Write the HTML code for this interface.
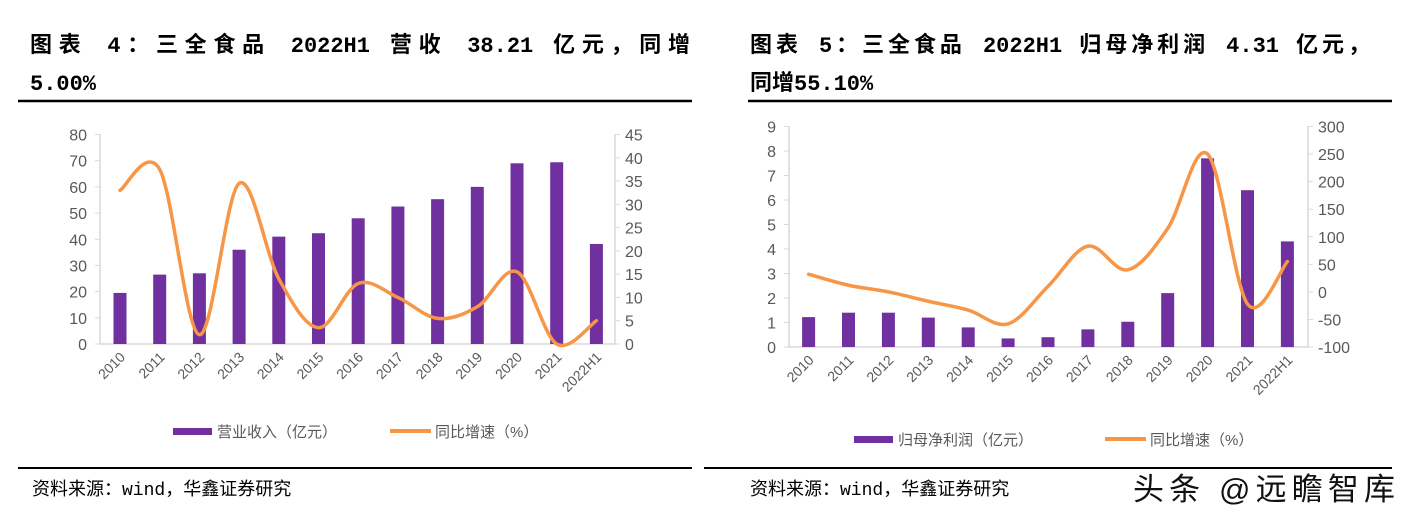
<!DOCTYPE html>
<html><head><meta charset="utf-8">
<style>
body{margin:0;background:#fff;width:1408px;height:512px;overflow:hidden;position:relative;font-family:"Liberation Sans","Noto Sans CJK SC",sans-serif;}
.tl{position:absolute;font-weight:bold;font-size:22px;color:#000;line-height:38px;font-family:"Liberation Mono","Noto Sans CJK SC",monospace;white-space:nowrap;}
.j{text-align:justify;text-align-last:justify;}
.src{position:absolute;font-size:18px;color:#000;font-family:"Liberation Mono","Noto Sans CJK SC",monospace;}
.wm{position:absolute;left:1133px;top:464px;width:262px;font-size:31px;color:#111;text-shadow:0 0 3px #fff,0 0 3px #fff;text-align:justify;text-align-last:justify;white-space:nowrap;}
</style></head><body>
<div class="tl j" style="left:30px;top:28px;width:660px;">图表 4：三全食品 2022H1 营收 38.21 亿元，同增</div>
<div class="tl" style="left:30px;top:66px;">5.00%</div>
<div class="tl j" style="left:750px;top:28px;width:620px;">图表 5：三全食品 2022H1 归母净利润 4.31 亿元，</div>
<div class="tl" style="left:750px;top:66px;">同增55.10%</div>
<svg width="1408" height="512" style="position:absolute;left:0;top:0">
<line x1="18" y1="101" x2="692" y2="101" stroke="#000" stroke-width="2.5"/>
<line x1="748" y1="101" x2="1392" y2="101" stroke="#000" stroke-width="2.5"/>
<line x1="18" y1="468" x2="692" y2="468" stroke="#000" stroke-width="2"/>
<line x1="704" y1="468" x2="1392" y2="468" stroke="#000" stroke-width="2"/>
<g id="c1"></g><g id="c2"></g>
</svg>
<div class="src" style="left:32px;top:475px;">资料来源：wind，华鑫证券研究</div>
<div class="src" style="left:750px;top:475px;">资料来源：wind，华鑫证券研究</div>
<div class="wm">头条 @远瞻智库</div>
<script>
const categories=["2010","2011","2012","2013","2014","2015","2016","2017","2018","2019","2020","2021","2022H1"];
const revenue=[19.5,26.5,27,36,41,42.3,48,52.5,55.3,60,69,69.4,38.2];
const revenueGrowth=[33,37.5,2,34.5,14,3.5,13,10,5.5,8,15.5,0,5];
const leftTicks=[0,10,20,30,40,50,60,70,80];
const leftRightTicks=[0,5,10,15,20,25,30,35,40,45];
const profit=[1.22,1.4,1.4,1.2,0.8,0.35,0.4,0.72,1.03,2.2,7.7,6.4,4.31];
const profitGrowth=[32,12,0,-17,-33,-58,10,83,40,115,250,-22,55];
const rightTicks=[0,1,2,3,4,5,6,7,8,9];
const rightRightTicks=[-100,-50,0,50,100,150,200,250,300];
const NS="http://www.w3.org/2000/svg";
function mk(p,tag,at){const e=document.createElementNS(NS,tag);for(const k in at)e.setAttribute(k,at[k]);p.appendChild(e);return e;}
function spline(pts){let d="M"+pts[0][0]+","+pts[0][1];for(let i=0;i<pts.length-1;i++){const p0=pts[i-1]||pts[i],p1=pts[i],p2=pts[i+1],p3=pts[i+2]||p2;const c1=[p1[0]+(p2[0]-p0[0])/6,p1[1]+(p2[1]-p0[1])/6],c2=[p2[0]-(p3[0]-p1[0])/6,p2[1]-(p3[1]-p1[1])/6];d+=" C"+c1+" "+c2+" "+p2;}return d;}
function chart(g,o){
 const yL=v=>o.y0-(v-o.lmin)/(o.lmax-o.lmin)*(o.y0-o.y1);
 const yR=v=>o.y0-(v-o.rmin)/(o.rmax-o.rmin)*(o.y0-o.y1);
 const xC=i=>o.xa+o.first+i*o.step;
 const ax=mk(g,'line',{x1:o.xa,y1:o.y0,x2:o.xb,y2:o.y0,stroke:'#d9d9d9','stroke-width':1.5});
 
 const la=mk(g,'line',{x1:o.xa,y1:o.y1,x2:o.xa,y2:o.y0,stroke:'#d9d9d9','stroke-width':1.5});
 
 const ra=mk(g,'line',{x1:o.xb,y1:o.y1,x2:o.xb,y2:o.y0,stroke:'#d9d9d9','stroke-width':1.5});
 
 o.lt.forEach(v=>{const y=yL(v);mk(g,'line',{x1:o.xa-5,y1:y,x2:o.xa,y2:y,stroke:'#d9d9d9'});
  const t=mk(g,'text',{x:o.xa-13,y:y+6,'text-anchor':'end','font-size':16,fill:'#595959'});t.textContent=v;
  });
 o.rt.forEach(v=>{const y=yR(v);mk(g,'line',{x1:o.xb,y1:y,x2:o.xb+5,y2:y,stroke:'#d9d9d9'});
  const t=mk(g,'text',{x:o.xb+10,y:y+6,'font-size':16,fill:'#595959'});t.textContent=v;
  });
 o.bars.forEach((v,i)=>{const b=mk(g,'rect',{x:xC(i)-6.5,y:yL(v),width:13,height:o.y0-yL(v),fill:'#7030a0'});
  });
 categories.forEach((c,i)=>{const x=xC(i)+6,y=o.y0+14;const t=mk(g,'text',{x:x,y:y,'text-anchor':'end','font-size':14,fill:'#595959',transform:`rotate(-45 ${x} ${y})`});t.textContent=c;
  });
 const pts=o.line.map((v,i)=>[xC(i),yR(v)]);
 const p=mk(g,'path',{d:spline(pts),fill:'none',stroke:'#f79646','stroke-width':3.5,'stroke-linecap':'round'});
 
 const s1=mk(g,'rect',{x:o.lg[0],y:o.lg[1]-3,width:39,height:7,fill:'#7030a0'});
 
 const t1=mk(g,'text',{x:o.lg[0]+44,y:o.lg[1]+6,'font-size':15,fill:'#595959'});t1.textContent=o.lab;
 
 const s2=mk(g,'line',{x1:o.lg[2],y1:o.lg[1],x2:o.lg[2]+41,y2:o.lg[1],stroke:'#f79646','stroke-width':4});
 
 const t2=mk(g,'text',{x:o.lg[2]+45,y:o.lg[1]+6,'font-size':15,fill:'#595959'});t2.textContent="同比增速（%）";
 
}
chart(document.getElementById('c1'),{xa:100,xb:615,y0:344,y1:134.5,lmin:0,lmax:80,rmin:0,rmax:45,first:20,step:39.7,lt:leftTicks,rt:leftRightTicks,bars:revenue,line:revenueGrowth,lg:[173,431,390],lab:"营业收入（亿元）"});
chart(document.getElementById('c2'),{xa:789,xb:1308,y0:347,y1:126.5,lmin:0,lmax:9,rmin:-100,rmax:300,first:19.6,step:39.9,lt:rightTicks,rt:rightRightTicks,bars:profit,line:profitGrowth,lg:[854,439,1105],lab:"归母净利润（亿元）"});
</script>
</body></html>
